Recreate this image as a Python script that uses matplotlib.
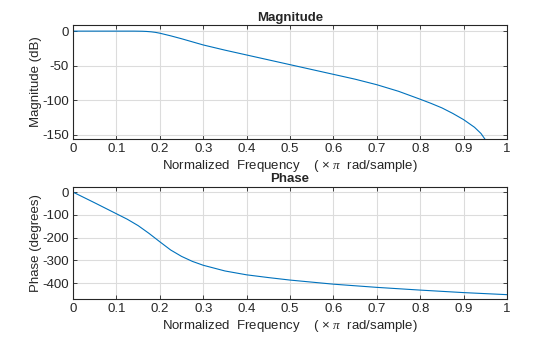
import matplotlib
matplotlib.use('Agg')
import matplotlib.pyplot as plt

# magnitude response (dB) vs normalized frequency
mag_freq = [0, 0.05, 0.1, 0.14, 0.16, 0.17, 0.18, 0.19, 0.2, 0.225, 0.25, 0.275,
            0.3, 0.35, 0.4, 0.45, 0.5, 0.55, 0.6, 0.65, 0.7, 0.75, 0.8, 0.825,
            0.85, 0.875, 0.9, 0.925, 0.94, 0.95, 0.96]
mag_db = [0, 0, 0, 0, -0.2, -0.5, -1.0, -1.8, -3, -6.8, -11, -15.5,
          -20, -27.5, -34.5, -41.5, -48.5, -55.5, -62.5, -69.5, -77.5, -87, -98.5, -104.5,
          -111, -119, -128, -139, -148, -157, -168]

# phase response (degrees)
ph_freq = [0, 0.05, 0.1, 0.125, 0.15, 0.175, 0.2, 0.225, 0.25, 0.275, 0.3,
           0.35, 0.4, 0.45, 0.5, 0.6, 0.7, 0.8, 0.9, 1.0]
ph_deg = [0, -47, -95, -119, -147, -181, -218, -254, -282, -304, -321,
          -346, -363, -375, -386, -404, -418, -430, -441, -450]

xticks = [0, 0.1, 0.2, 0.3, 0.4, 0.5, 0.6, 0.7, 0.8, 0.9, 1]
xticklabels = ['0', '0.1', '0.2', '0.3', '0.4', '0.5', '0.6', '0.7', '0.8', '0.9', '1']

plt.rcParams['font.family'] = ['Liberation Sans', 'DejaVu Sans']
plt.rcParams['axes.unicode_minus'] = False
plt.rcParams['mathtext.fontset'] = 'custom'
plt.rcParams['mathtext.it'] = 'Liberation Serif:italic'
plt.rcParams['mathtext.rm'] = 'Liberation Sans'

txt = '#262626'
line_color = '#0072BD'
fs = 9.5
xlab = r'Normalized  Frequency    ( $\times\ \mathit{\pi}$  rad/sample)'

fig = plt.figure(figsize=(5.6, 3.37), dpi=100)
ax1 = fig.add_axes([0.1304, 0.5875, 0.775, 0.338])
ax2 = fig.add_axes([0.1304, 0.1128, 0.775, 0.332])


def style(ax):
    ax.set_xlim(0, 1)
    ax.set_xticks(xticks)
    ax.set_xticklabels(xticklabels)
    ax.grid(True, color='#dcdcdc', linewidth=0.8)
    ax.set_axisbelow(True)
    ax.tick_params(direction='in', top=True, right=True, length=3,
                   width=0.6, colors=txt, labelcolor=txt, labelsize=fs, pad=3)
    for s in ax.spines.values():
        s.set_color('#262626')
        s.set_linewidth(0.8)
    ax.set_xlabel(xlab, color=txt, fontsize=fs, labelpad=2)


ax1.plot(mag_freq, mag_db, color=line_color, linewidth=0.8)
style(ax1)
ax1.set_ylim(-156, 8.7)
ax1.set_yticks([0, -50, -100, -150])
ax1.set_ylabel('Magnitude (dB)', color=txt, fontsize=fs)
ax1.yaxis.set_label_coords(-0.072, 0.5)
ax1.set_title('Magnitude', fontweight='bold', fontsize=fs, color=txt, pad=3)

ax2.plot(ph_freq, ph_deg, color=line_color, linewidth=0.8)
style(ax2)
ax2.set_ylim(-469, 22)
ax2.set_yticks([0, -100, -200, -300, -400])
ax2.set_ylabel('Phase (degrees)', color=txt, fontsize=fs)
ax2.yaxis.set_label_coords(-0.072, 0.5)
ax2.set_title('Phase', fontweight='bold', fontsize=fs, color=txt, pad=4)

fig.savefig('out.png', dpi=100, facecolor='white')
